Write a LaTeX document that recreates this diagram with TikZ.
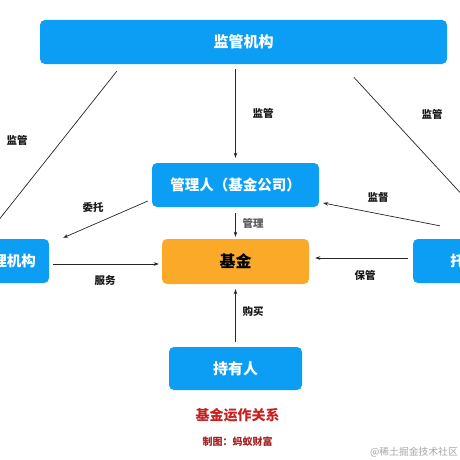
\documentclass[tikz,border=0pt]{standalone}
\usepackage{fontspec}
\setmainfont{Noto Sans CJK SC}
\usetikzlibrary{arrows.meta,calc}
\definecolor{boxblue}{RGB}{12,157,245}
\definecolor{fundorange}{RGB}{250,170,40}
\definecolor{capred}{RGB}{200,32,32}
\definecolor{subred}{RGB}{165,35,35}
\tikzset{
  bluebox/.style={draw=none,fill=boxblue,rounded corners=5pt,text=white,font=\fontsize{14.5}{17}\selectfont\bfseries,inner sep=0pt},
  fundbox/.style={draw=none,fill=fundorange,rounded corners=5pt,text=black,font=\fontsize{16}{19}\selectfont\bfseries,inner sep=0pt},
  arr/.style={draw=black!85,line width=0.7pt,-{Stealth[length=5pt,width=3.5pt]}},
  plain/.style={draw=black!85,line width=0.7pt},
  lbl/.style={font=\fontsize{10.5}{12}\selectfont\bfseries,text=black!90,inner sep=0pt},
}
\begin{document}
\begin{tikzpicture}[x=1pt,y=-1pt]
\useasboundingbox[fill=white] (0,0) rectangle (460,460);
% boxes
\node[bluebox,minimum width=407pt,minimum height=44pt,font=\fontsize{15}{18}\selectfont\bfseries] (reg) at (243.5,42) {监管机构};
\node[bluebox,minimum width=167pt,minimum height=44pt] (mgr) at (235.5,185) {管理人（基金公司）};
\node[fundbox,minimum width=147pt,minimum height=45pt] (fund) at (235.5,261.5) {基金};
\node[bluebox,minimum width=84pt,minimum height=44pt] (agent) at (7,261) {代理机构};
\node[bluebox,minimum width=118pt,minimum height=44pt] (cust) at (472,261) {托管人};
\node[bluebox,minimum width=133pt,minimum height=43pt,font=\fontsize{15}{18}\selectfont\bfseries] (hold) at (235.5,368.5) {持有人};
% connectors
\draw[arr] ($(reg.south -| mgr.north)+(0,5)$) -- ($(mgr.north)+(0,-5)$);
\draw[arr] ($(reg.south west)+(77,7)$) -- ($(agent.north)+(-20,-4)$);
\draw[arr] ($(reg.south west)+(314,13)$) -- ($(cust.north)+(27,-4)$);
\draw[arr] ($(mgr.west)+(-4,16)$) -- ($(agent.north east)+(14,-1)$);
\draw[arr] ($(mgr.south)+(0,6)$) -- ($(fund.north)+(0,-2)$);
\draw[arr] ($(agent.east)+(4,3)$) -- ($(fund.west)+(-3,2.5)$);
\draw[arr] ($(cust.west)+(-5,-3)$) -- ($(fund.east)+(6,-3.5)$);
\draw[arr] ($(cust.north west)+(27,-13)$) -- ($(mgr.east)+(4,18)$);
\draw[arr] ($(hold.north)+(0,-5)$) -- ($(fund.south)+(0,5)$);
% labels
\node[lbl] (l1) at (263,113) {监管};
\node[lbl] (l2) at (17,140) {监管};
\node[lbl] (l3) at (432,114) {监管};
\node[lbl] (l4) at (93,208) {委托};
\node[lbl,text=black!65] (l5) at (253,223) {管理};
\node[lbl] (l6) at (105,281) {服务};
\node[lbl] (l7) at (365,275) {保管};
\node[lbl] (l8) at (378,197) {监督};
\node[lbl] (l9) at (253,312) {购买};
% captions
\node[font=\fontsize{14}{16}\selectfont\bfseries,text=capred,inner sep=0pt] (cap) at (237.5,415) {基金运作关系};
\node[font=\fontsize{10}{12}\selectfont\bfseries,text=subred,inner sep=0pt] (sub) at (237.5,442) {制图：蚂蚁财富};
\node[font=\fontsize{9.8}{12}\selectfont,text=black!35,inner sep=0pt,anchor=east] (wm) at (458,452) {@稀土掘金技术社区};
\end{tikzpicture}
\end{document}
